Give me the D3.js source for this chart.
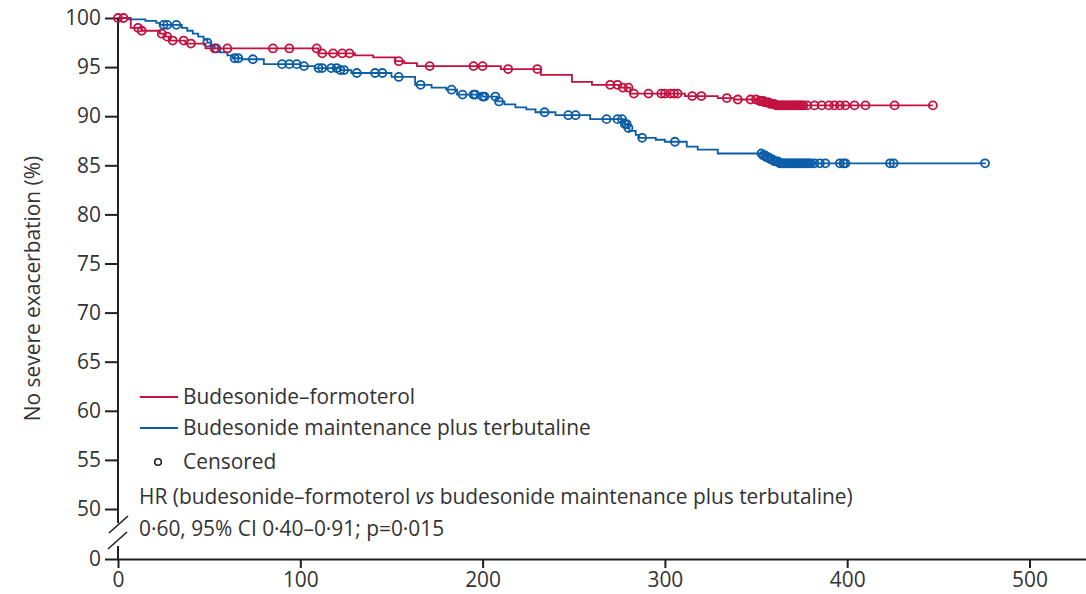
<!DOCTYPE html>
<html>
<head>
<meta charset="utf-8">
<script src="https://cdn.jsdelivr.net/npm/d3@7"></script>
<style>
  html, body { margin: 0; padding: 0; background: #fff; }
  svg { display: block; font-family: "Open Sans", sans-serif; }
</style>
</head>
<body>
<svg id="chart" width="1086" height="594"></svg>
<script>
// ---------------- DATA ----------------
const seriesNames = ["Budesonide–formoterol", "Budesonide maintenance plus terbutaline"];

// Red: budesonide–formoterol step function (time in days, % free of severe exacerbation)
const redStepTimes = [0, 7, 13, 23, 26, 28, 37, 48, 110, 130, 140, 152, 157, 164, 210, 232, 249, 260, 275, 281, 311, 329, 338, 352, 355, 358, 361, 447];
const redStepSurv  = [100, 99.0, 98.7, 98.4, 98.1, 97.7, 97.4, 96.9, 96.4, 96.2, 96.0, 95.6, 95.4, 95.1, 94.8, 94.2, 93.5, 93.2, 92.9, 92.3, 92.05, 91.85, 91.7, 91.55, 91.4, 91.25, 91.1, 91.1];
const redCensored  = [0, 3, 11, 13, 24, 27, 30, 36, 40, 53, 60, 85, 94, 109, 112, 118, 123, 127, 154, 171, 195, 200, 214, 230, 270, 274, 277, 280, 283, 291, 298, 300, 303, 305, 307, 315, 320, 334, 340, 347, 350, 352, 353, 354, 355, 356, 357, 358, 359, 360, 361, 362, 363, 364, 365, 366, 367, 368, 369, 370, 371, 372, 373, 374, 375, 376, 378, 382, 386, 390, 393, 396, 399, 404, 410, 426, 447];

// Blue: budesonide maintenance plus terbutaline
const blueStepTimes = [0, 6, 15, 21, 23, 35, 38, 41, 44, 47, 49, 51, 53, 56, 60, 63, 68, 80, 100, 108, 122, 128, 150, 163, 172, 180, 186, 200, 208, 212, 218, 224, 229, 240, 259, 278, 279.5, 280.5, 284, 286, 295, 300, 312, 318, 329, 354, 356, 358, 360, 363, 476];
const blueStepSurv  = [100, 99.85, 99.7, 99.5, 99.3, 99.0, 98.7, 98.4, 98.1, 97.8, 97.5, 97.2, 96.9, 96.5, 96.2, 95.9, 95.8, 95.3, 95.1, 94.9, 94.7, 94.4, 94.0, 93.2, 92.9, 92.7, 92.2, 92.0, 91.5, 91.2, 90.9, 90.7, 90.4, 90.1, 89.7, 89.2, 88.8, 88.5, 88.1, 87.8, 87.6, 87.4, 86.9, 86.6, 86.2, 86.0, 85.8, 85.6, 85.4, 85.2, 85.2];
const blueCensored  = [25, 27, 32, 49, 54, 64, 66, 74, 90, 94, 98, 102, 110, 112, 117, 120, 122, 124, 131, 141, 145, 154, 166, 183, 189, 195, 196, 200, 201, 207, 209, 234, 247, 251, 268, 274, 276.5, 278, 279, 280, 287.5, 305.5, 353, 354, 355, 356, 357, 358, 359, 360, 361, 362, 363, 364, 365, 366, 367, 368, 369, 370, 371, 372, 373, 374, 375, 376, 377, 378, 379, 380, 382, 385, 388, 396, 398, 399, 423.5, 425.5, 475.6];

const xTicks = [0, 100, 200, 300, 400, 500];
const yTicks = [0, 50, 55, 60, 65, 70, 75, 80, 85, 90, 95, 100];
const yLabel = "No severe exacerbation (%)";
const hrLine1 = ["HR (budesonide–formoterol ", "vs", " budesonide maintenance plus terbutaline)"];
const hrLine2 = "0·60, 95% CI 0·40–0·91; p=0·015";
const censoredLabel = "Censored";

// ---------------- DRAW ----------------
const RED = "#c3113f", BLUE = "#0b5da8", AX = "#231f20", TXT = "#333333";
const FS = "20.9px";
const svg = d3.select("#chart");

const x = d3.scaleLinear().domain([0, 531]).range([118, 1086]);
// Broken axis: 0 and 50–100 on a piecewise scale
const y = d3.scaleLinear().domain([0, 50, 100]).range([559, 509, 18]);

const fmt = d => String(d);

// Y axis
const yAxisG = svg.append("g").attr("transform", `translate(${x(0)},0)`)
  .call(d3.axisLeft(y).tickValues(yTicks).tickSize(13).tickSizeOuter(0).tickPadding(4).tickFormat(fmt));
yAxisG.select(".domain").remove();
yAxisG.selectAll(".tick line").attr("stroke", AX).attr("stroke-width", 2);
yAxisG.selectAll(".tick text").attr("fill", TXT).style("font-size", FS).style("font-family", "'Open Sans', sans-serif");
// y axis line with break
svg.append("line").attr("x1", x(0)).attr("x2", x(0)).attr("y1", y(100)).attr("y2", 523).attr("stroke", AX).attr("stroke-width", 2);
svg.append("line").attr("x1", x(0)).attr("x2", x(0)).attr("y1", 546).attr("y2", y(0)).attr("stroke", AX).attr("stroke-width", 2);
svg.append("line").attr("x1", 109).attr("y1", 533).attr("x2", 128).attr("y2", 516).attr("stroke", AX).attr("stroke-width", 1.6);
svg.append("line").attr("x1", 108).attr("y1", 549).attr("x2", 127).attr("y2", 532).attr("stroke", AX).attr("stroke-width", 1.6);

// X axis
const xAxisG = svg.append("g").attr("transform", `translate(0,${y(0)})`)
  .call(d3.axisBottom(x).tickValues(xTicks).tickSize(9).tickSizeOuter(0).tickPadding(4).tickFormat(fmt));
xAxisG.select(".domain").attr("stroke", AX).attr("stroke-width", 2);
xAxisG.selectAll(".tick line").attr("stroke", AX).attr("stroke-width", 2);
xAxisG.selectAll(".tick text").attr("fill", TXT).style("font-size", FS).style("font-family", "'Open Sans', sans-serif");

// Y label
svg.append("text")
  .attr("transform", `translate(40,${(y(100)+y(0))/2}) rotate(-90)`)
  .attr("text-anchor", "middle").attr("fill", TXT)
  .style("font-size", FS).text(yLabel);

// Step curves
function stepData(times, surv) { return times.map((t, i) => [t, surv[i]]); }
function survAt(times, surv, t) {
  let v = surv[0];
  for (let i = 0; i < times.length; i++) { if (times[i] <= t) v = surv[i]; else break; }
  return v;
}
const line = d3.line().x(d => x(d[0])).y(d => y(d[1])).curve(d3.curveStepAfter);

const series = [
  { times: redStepTimes, surv: redStepSurv, cens: redCensored, color: RED },
  { times: blueStepTimes, surv: blueStepSurv, cens: blueCensored, color: BLUE }
];
[series[1], series[0]].forEach(s => {
  svg.append("path").datum(stepData(s.times, s.surv))
    .attr("d", line).attr("fill", "none").attr("stroke", s.color).attr("stroke-width", 1.8);
  svg.append("g").selectAll("circle").data(s.cens).join("circle")
    .attr("cx", d => x(d)).attr("cy", d => y(survAt(s.times, s.surv, d)))
    .attr("r", 4).attr("fill", "none").attr("stroke", s.color).attr("stroke-width", 1.8);
});

// Legend
const legend = [
  { label: seriesNames[0], color: RED, ly: 397 },
  { label: seriesNames[1], color: BLUE, ly: 428 }
];
legend.forEach(l => {
  svg.append("line").attr("x1", 140).attr("x2", 178).attr("y1", l.ly).attr("y2", l.ly)
    .attr("stroke", l.color).attr("stroke-width", 1.8);
  svg.append("text").attr("x", 183).attr("y", l.ly + 7).attr("fill", TXT)
    .style("font-size", FS).text(l.label);
});
svg.append("circle").attr("cx", 158).attr("cy", 462).attr("r", 3.3)
  .attr("fill", "none").attr("stroke", AX).attr("stroke-width", 1.6);
svg.append("text").attr("x", 183).attr("y", 469).attr("fill", TXT)
  .style("font-size", FS).text(censoredLabel);

const hr = svg.append("text").attr("x", 139).attr("y", 504).attr("fill", TXT).style("font-size", FS);
hr.append("tspan").text(hrLine1[0]);
hr.append("tspan").style("font-style", "italic").text(hrLine1[1]);
hr.append("tspan").text(hrLine1[2]);
svg.append("text").attr("x", 139).attr("y", 536).attr("fill", TXT).style("font-size", FS).text(hrLine2);
</script>
</body>
</html>
